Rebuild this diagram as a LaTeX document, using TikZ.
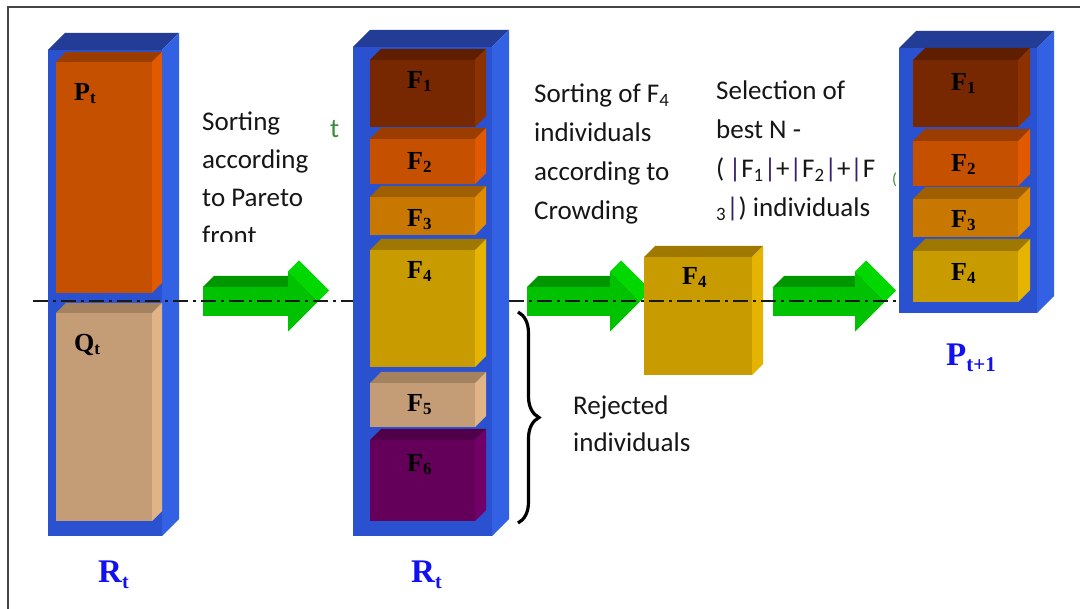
\documentclass[tikz,border=0pt]{standalone}
\usepackage{fontspec}
\setmainfont{Liberation Serif}
\newfontfamily\calib{Carlito}
\usetikzlibrary{decorations.pathreplacing}

% face colours: front / top / side
\definecolor{bluefront}{HTML}{2A52D0}
\definecolor{bluetop}{HTML}{233C96}
\definecolor{blueside}{HTML}{3262E3}
\definecolor{orangefront}{HTML}{C55000}
\definecolor{orangetop}{HTML}{9B3C00}
\definecolor{orangeside}{HTML}{E15A00}
\definecolor{tanfront}{HTML}{C49C76}
\definecolor{tantop}{HTML}{A5825F}
\definecolor{tanside}{HTML}{E1B487}
\definecolor{brownfront}{HTML}{782800}
\definecolor{browntop}{HTML}{5F1E00}
\definecolor{brownside}{HTML}{8C3200}
\definecolor{amberfront}{HTML}{C87800}
\definecolor{ambertop}{HTML}{A05F00}
\definecolor{amberside}{HTML}{E18C00}
\definecolor{goldfront}{HTML}{C89B00}
\definecolor{goldtop}{HTML}{9E7800}
\definecolor{goldside}{HTML}{E4B400}
\definecolor{purplefront}{HTML}{64005A}
\definecolor{purpletop}{HTML}{500048}
\definecolor{purpleside}{HTML}{730069}
\definecolor{arrfront}{HTML}{00C200}
\definecolor{arrtop}{HTML}{009600}
\definecolor{arrside}{HTML}{00D800}
\definecolor{framecol}{HTML}{444444}
\definecolor{txtcol}{HTML}{161616}
\definecolor{barcol}{HTML}{3A1F70}
\definecolor{labblue}{HTML}{1010F0}
\definecolor{straygreen}{HTML}{3C8C3C}

% oblique box: front corners (x1,y1)-(x2,y2), depth d, colour prefix
\newcommand\drawblock[6]{%
  \fill[#6front] (#1,#2) rectangle (#3,#4);
  \fill[#6top] (#1,#2) -- ({#1+#5},{#2-#5}) -- ({#3+#5},{#2-#5}) -- (#3,#2) -- cycle;
  \fill[#6side] (#3,#2) -- ({#3+#5},{#2-#5}) -- ({#3+#5},{#4-#5}) -- (#3,#4) -- cycle;}

% extruded block arrow: body start x, head start x, centre y
\newcommand\blockarrow[3]{%
  \fill[arrtop] (#1,{#3-14.5}) -- ({#1+11},{#3-25.5}) -- ({#2+11},{#3-25.5}) -- (#2,{#3-14.5}) -- cycle;
  \fill[arrside] (#2,{#3-30}) -- ({#2+11},{#3-41}) -- ({#2+41},{#3-11}) -- ({#2+30},#3) -- cycle;
  \fill[arrfront] (#1,{#3-14.5}) -- (#2,{#3-14.5}) -- (#2,{#3-30}) -- ({#2+30},#3)
    -- (#2,{#3+30}) -- (#2,{#3+14.5}) -- (#1,{#3+14.5}) -- cycle;}

% bold serif label with lowered index
\newcommand\flab[2]{\bfseries #1\raisebox{-3pt}{\fontsize{17}{17}\selectfont #2}}
\newcommand\vb{{\color{barcol}|}}

\begin{document}
\begin{tikzpicture}[x=1pt,y=-1pt,
  boxlab/.style={inner sep=0pt, anchor=base west, text=black, font=\fontsize{26}{26}\selectfont},
  setlab/.style={inner sep=0pt, anchor=base west, text=labblue, font=\fontsize{33}{33}\selectfont\bfseries},
  note/.style={inner sep=0pt, anchor=base west, align=left, text=txtcol},
  midline/.style={draw=black!90, line width=1.8pt, dash pattern=on 15pt off 5pt on 3pt off 5pt}]

\useasboundingbox (0,0) rectangle (1080,609);
\fill[white] (0,0) rectangle (1080,609);

% frame
\draw[framecol, line width=2.5pt] (8,609) -- (8,7) -- (1080,7);

% left column: R_t = P_t + Q_t
\drawblock{48}{50}{162}{536}{17}{blue}
\drawblock{56}{62}{152}{293}{10}{orange}
\drawblock{56}{313}{152}{521}{10}{tan}
\node[boxlab] (pt) at (74,101) {\flab{P}{t}};
\node[boxlab] (qt) at (74,352) {\flab{Q}{t}};
\node[setlab] (rt1) at (98,583) {R\raisebox{-6pt}{\fontsize{20}{20}\selectfont t}};

% arrows and the separated front
\blockarrow{203}{288}{301.5}
\blockarrow{527}{610}{301.5}
\blockarrow{773}{855}{301.5}
\drawblock{644}{257}{752}{375}{11}{gold}
\node[boxlab] (f4m) at (682,285) {\flab{F}{4}};

% cut line for N individuals
\draw[midline] (33,301) -- (899,301);

% middle column: fronts after sorting
\drawblock{353}{47}{492}{536}{17}{blue}
\drawblock{370}{60}{475}{127}{11}{brown}
\drawblock{370}{139}{475}{184}{11}{orange}
\drawblock{370}{197}{475}{235}{11}{amber}
\drawblock{370}{250}{475}{367}{11}{gold}
\drawblock{370}{383}{475}{427}{11}{tan}
\drawblock{370}{440}{475}{521}{11}{purple}
\node[boxlab] (m1) at (407,89) {\flab{F}{1}};
\node[boxlab] (m2) at (407,170) {\flab{F}{2}};
\node[boxlab] (m3) at (407,227) {\flab{F}{3}};
\node[boxlab] (m4) at (407,279) {\flab{F}{4}};
\node[boxlab] (m5) at (407,412) {\flab{F}{5}};
\node[boxlab] (m6) at (407,472) {\flab{F}{6}};
\node[setlab] (rt2) at (411,583) {R\raisebox{-6pt}{\fontsize{20}{20}\selectfont t}};

% rejected fronts
\draw[line width=3.2pt, decorate, decoration={brace, amplitude=21pt}] (518,312) -- (518,523);

% captions (anchored at the baseline of their last line)
\begin{scope}
  \clip (190,90) rectangle (340,242);
  \node[note, font=\calib\fontsize{27}{38}\selectfont] (c1) at (202,245)
    {Sorting\\according\\to Pareto\\front};
\end{scope}
\node[inner sep=0pt, anchor=base west, text=straygreen, font=\calib\fontsize{27}{27}\selectfont] (g1) at (330,138) {t};
\node[note, font=\calib\fontsize{27}{39}\selectfont] (c2) at (534,220)
  {Sorting of F\textsubscript{4}\\individuals\\according to\\Crowding};
\node[note, font=\calib\fontsize{27}{39}\selectfont] (c3) at (716,217)
  {Selection of\\best N -\\(\,\vb F\textsubscript{1}\vb+\vb F\textsubscript{2}\vb+\vb F\\\textsubscript{3}\vb) individuals};
\node[note, font=\calib\fontsize{27}{37}\selectfont] (c4) at (573,452)
  {Rejected\\individuals};
\node[inner sep=0pt, anchor=base west, text=straygreen, font=\calib\fontsize{16}{16}\selectfont] (g2) at (892,185) {(};

% right column: P_{t+1}
\drawblock{899}{48}{1037}{313}{17}{blue}
\drawblock{913}{60}{1018}{127}{12}{brown}
\drawblock{913}{141}{1018}{186}{12}{orange}
\drawblock{913}{199}{1018}{237}{12}{amber}
\drawblock{913}{251}{1018}{302}{12}{gold}
\node[boxlab] (r1) at (951,91) {\flab{F}{1}};
\node[boxlab] (r2) at (951,172) {\flab{F}{2}};
\node[boxlab] (r3) at (951,228) {\flab{F}{3}};
\node[boxlab] (r4) at (951,281) {\flab{F}{4}};
\node[setlab] (pt1) at (946,366) {P\raisebox{-6pt}{\fontsize{21}{21}\selectfont t+1}};
\end{tikzpicture}
\end{document}
